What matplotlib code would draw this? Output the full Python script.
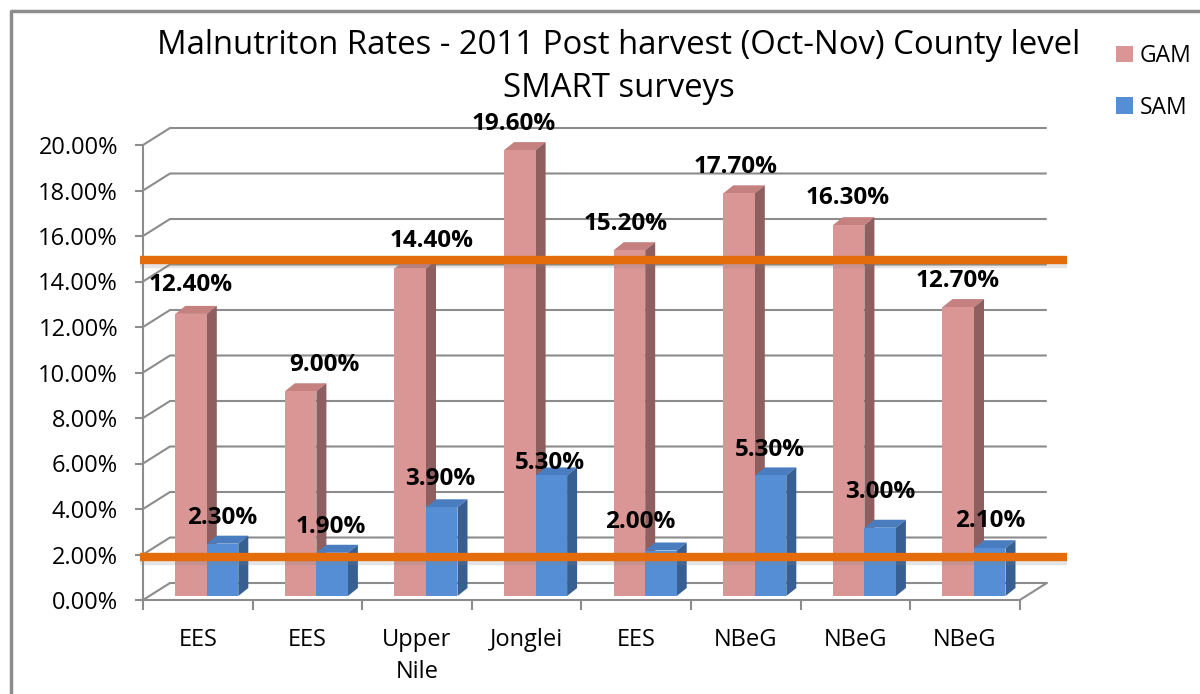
import numpy as np
import matplotlib
matplotlib.use('Agg')
import matplotlib.pyplot as plt
from matplotlib.patches import Polygon, Patch
from matplotlib.lines import Line2D

plt.rcParams['font.family'] = ['Open Sans', 'DejaVu Sans']

# ---------------- data ----------------
categories = ['EES', 'EES', 'Upper\nNile', 'Jonglei', 'EES', 'NBeG', 'NBeG', 'NBeG']
gam = [12.4, 9.0, 14.4, 19.6, 15.2, 17.7, 16.3, 12.7]
sam = [2.3, 1.9, 3.9, 5.3, 2.0, 5.3, 3.0, 2.1]
series_names = ['GAM', 'SAM']
threshold_lines = [14.95, 1.9]
yticks = np.arange(0, 21, 2)
title = 'Malnutriton Rates - 2011 Post harvest (Oct-Nov) County level\nSMART surveys'

# ---------------- layout / style ----------------
W, H = 1200, 694
PX_X = 109.6   # pixels per category
PX_Y = 22.75   # pixels per percent point
def cx(px): return px / PX_X
def cy(px): return px / PX_Y

gam_face = ['#D99694', '#C4817F', '#8E5F5E']   # front, top, side
sam_face = ['#558ED5', '#4A7DC0', '#385F92']
grid_c = '#8C8C8C'
orange = '#E46C0A'

wall_dx, wall_dy = cx(27), cy(17)
bar_ox, bar_oy = cx(9), cy(4)
bar_w = cx(31.5)
bar_dx, bar_dy = cx(10), cy(8)

# label offsets (px): dx, dy above bar front top
gam_lab_dx = [0, 24, 21, -6, -4, -3, -1, -1]
gam_lab_dy = [29, 26, 27, 26, 26, 26, 27, 26]
sam_lab_dx = [0, -1, -1, -1, -21, -1, 0, 0]
sam_lab_dy = [26, 26, 28, 12, 28, 25, 36, 27]

fig = plt.figure(figsize=(W / 100, H / 100), dpi=100)
ax = fig.add_axes([143 / W, 94 / H, 8 * PX_X / W, 20 * PX_Y / H])
n = len(categories)
ax.set_xlim(0, n)
ax.set_ylim(0, 20)
for s in ax.spines.values():
    s.set_visible(False)
ax.patch.set_alpha(0)

# walls / gridlines
for y in yticks:
    ax.plot([0, wall_dx, n + wall_dx], [y, y + wall_dy, y + wall_dy],
            color=grid_c, lw=1.5, clip_on=False, zorder=1, solid_capstyle='butt')
ax.plot([0, 0], [0, 20], color=grid_c, lw=1.5, clip_on=False, zorder=1)
ax.plot([0, n, n + wall_dx], [0, 0, wall_dy], color=grid_c, lw=1.5, clip_on=False, zorder=1)

# ticks
ax.set_yticks(yticks)
ax.set_yticklabels([f'{v:.2f}%' for v in yticks])
ax.tick_params(axis='y', length=6, width=1.5, color=grid_c, pad=12, labelsize=17)
ax.set_xticks(np.arange(0, n + 1))
ax.set_xticklabels([])
ax.tick_params(axis='x', which='major', length=7, width=1.5, color=grid_c)
ax.set_xticks(np.arange(n) + 0.5, minor=True)
ax.set_xticklabels(categories, minor=True)
ax.tick_params(axis='x', which='minor', length=0, pad=20, labelsize=17)
for t in ax.get_xminorticklabels():
    t.set_linespacing(1.45)

def draw_bars(lefts, vals, faces, z):
    ax.bar(lefts, vals, width=bar_w, bottom=bar_oy, align='edge',
           color=faces[0], zorder=z + 0.2, clip_on=False, linewidth=0)
    for xl, v in zip(lefts, vals):
        top = bar_oy + v
        ax.add_patch(Polygon([(xl, top), (xl + bar_w, top),
                              (xl + bar_w + bar_dx, top + bar_dy), (xl + bar_dx, top + bar_dy)],
                             closed=True, facecolor=faces[1], edgecolor='none',
                             zorder=z, clip_on=False))
        ax.add_patch(Polygon([(xl + bar_w, bar_oy), (xl + bar_w, top),
                              (xl + bar_w + bar_dx, top + bar_dy), (xl + bar_w + bar_dx, bar_oy + bar_dy)],
                             closed=True, facecolor=faces[2], edgecolor='none',
                             zorder=z + 0.1, clip_on=False))

idx = np.arange(n)
gam_left = idx + 0.5 - bar_w + bar_ox
sam_left = gam_left + bar_w
draw_bars(gam_left, gam, gam_face, 3)
draw_bars(sam_left, sam, sam_face, 4)

# threshold lines
for y in threshold_lines:
    ax.plot([cx(-3), n + cx(47)], [y - cy(4), y - cy(4)], color='#7F7F7F', alpha=0.2,
            lw=6, clip_on=False, zorder=5.5, solid_capstyle='butt')
    ax.plot([cx(-3), n + cx(47)], [y, y], color=orange, lw=6, clip_on=False,
            zorder=6, solid_capstyle='butt')

# data labels
for i in idx:
    ax.text(gam_left[i] + bar_w / 2 + cx(gam_lab_dx[i]), bar_oy + gam[i] + cy(gam_lab_dy[i]),
            f'{gam[i]:.2f}%', ha='center', va='center', fontsize=17.5,
            fontweight='bold', zorder=7, clip_on=False)
    ax.text(sam_left[i] + bar_w / 2 + cx(sam_lab_dx[i]), bar_oy + sam[i] + cy(sam_lab_dy[i]),
            f'{sam[i]:.2f}%', ha='center', va='center', fontsize=17.5,
            fontweight='bold', zorder=7, clip_on=False)

# title
fig.text(619 / W, 1 - 67 / H, title, ha='center', va='center', fontsize=23.7,
         linespacing=1.4)

# legend
handles = [Patch(facecolor=gam_face[0]), Patch(facecolor=sam_face[0])]
ax.legend(handles, series_names, loc='upper left', bbox_to_anchor=(1116 / W, 1 - 44 / H),
          bbox_transform=fig.transFigure, frameon=False, fontsize=16.5,
          handlelength=0.75, handleheight=0.75, handletextpad=0.3,
          labelspacing=1.2, borderaxespad=0, borderpad=0)

# chart frame
fig.add_artist(Line2D([11 / W, 11 / W, 1.0], [0, 1 - 11 / H, 1 - 11 / H],
                      transform=fig.transFigure, color='#8C8C8C', lw=2.5))

fig.savefig('out.png', dpi=100)
